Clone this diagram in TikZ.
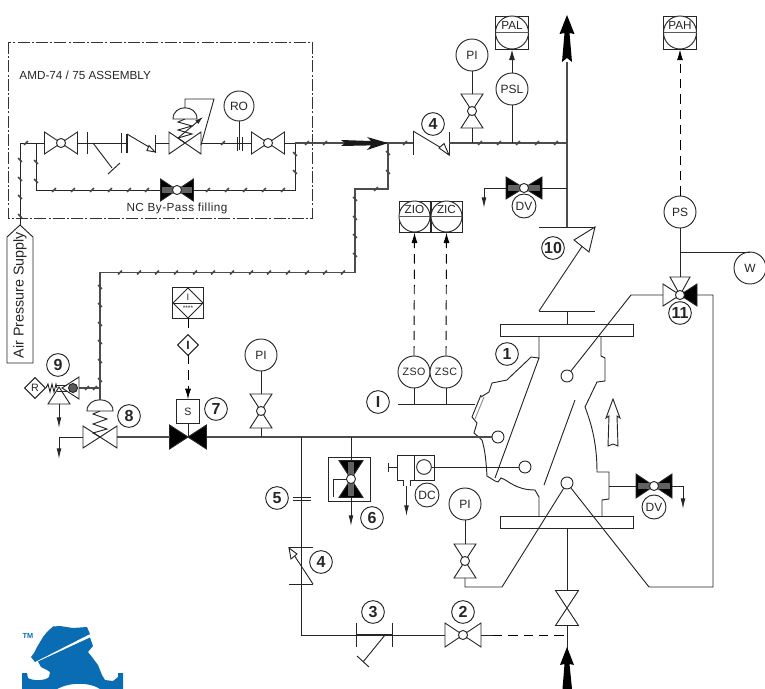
\documentclass[tikz,border=0pt]{standalone}
\usepackage{fontspec}
\setmainfont{Liberation Sans}
\newfontfamily\isof[LetterSpace=4]{Liberation Sans}
\usetikzlibrary{arrows.meta}
\definecolor{logoblue}{HTML}{0A6DB4}
\tikzset{
  pipe/.style={line width=0.8pt,draw=black!70},
  inst/.style={circle,draw,fill=white,minimum size=24pt,inner sep=0pt,font=\fontsize{9pt}{10pt}\selectfont},
  num/.style={circle,draw,fill=white,minimum size=17pt,inner sep=0pt,font=\bfseries\fontsize{12pt}{12pt}\selectfont},
  dvc/.style={circle,draw,fill=white,minimum size=18pt,inner sep=0pt,font=\fontsize{9pt}{10pt}\selectfont},
  vc/.style={circle,draw,fill=white,minimum size=6.8pt,inner sep=0pt},
  vn/.style={inner sep=0pt,minimum size=0pt},
  port/.style={circle,draw,fill=white,minimum size=9pt,inner sep=0pt},
  tickmark/.style={line width=1.15pt,draw=black!72},
  dashline/.style={dash pattern=on 7pt off 4.5pt,draw=black},
  outlet/.style={-{Latex[length=8pt,width=3.6pt]}},
  sq/.style={rectangle,draw,inner sep=0pt},
  lbl/.style={inner sep=0pt,font=\fontsize{8.8pt}{9pt}\selectfont}
}
% name, x, y, rotation, half length, half width, fill, centre style
\newcommand\vlv[8]{%
  \begin{scope}[shift={(#2,#3)},rotate=#4]
    \draw[fill=#7] (-#5,-#6)--(0,0)--(-#5,#6)--cycle;
    \draw[fill=#7] (#5,-#6)--(0,0)--(#5,#6)--cycle;
    \coordinate (#1-a) at (-#5,0);
    \coordinate (#1-b) at (#5,0);
  \end{scope}
  \node[#8] (#1) at (#2,#3) {};}
% stripe on the shaded black valves: x, y, rotation, half length
\newcommand\stripe[4]{%
  \begin{scope}[shift={(#1,#2)},rotate=#3]
    \fill[black!62] (-#4,-2.6) rectangle (#4,2.6);
  \end{scope}}
% name, centre x, centre y, half size, text
\newcommand\alarm[5]{%
  \node[sq,fill=white,minimum size=#4*1.5pt] (#1) at (#2,#3) {};
  \draw[fill=white] (#2,#3) circle[radius=#4];
  \draw[line width=1pt,draw=black!65] (#2-#4,#3) -- (#2+#4,#3);
  \node[lbl] at (#2,#3-7.5) {#5};}
\begin{document}
\begin{tikzpicture}[x=0.75pt,y=-0.75pt,line width=0.7pt,color=black!85]
\useasboundingbox (0,0) rectangle (765,689);

% ---------- assembly box
\draw[dash pattern=on 9pt off 1.6pt on 1.6pt off 1.6pt,draw=black!80] (8,42) rectangle (312,218);
\node[anchor=west,inner sep=0pt,font=\fontsize{8.8pt}{10pt}\selectfont] (asm) at (19,75) {AMD-74 / 75 ASSEMBLY};
\node[inner sep=0pt,font=\isof\fontsize{8.8pt}{9pt}\selectfont] (nc) at (177,208.5) {NC By-Pass filling};

% ---------- supply tag
\node[inner sep=0pt] (sup) at (20,226) {};
\draw[fill=white] (20,225)--(33,237)--(33,363)--(7,363)--(7,237)--cycle;
\node[rotate=90,inner sep=0pt,font=\fontsize{10.7pt}{12pt}\selectfont] at (20,295) {Air Pressure Supply};

% ---------- valves
\vlv{v1}{61}{143}{0}{16.5}{11}{white}{vc}
\vlv{vreg}{185}{143}{0}{16}{11}{white}{vn}
\vlv{v2r}{268}{143}{0}{16.5}{11}{white}{vc}
\vlv{vbp}{177}{190}{0}{16.5}{11}{black}{vn}
\stripe{177}{190}{0}{15}
\node[vc] at (177,190) {};
\vlv{vpi}{472}{111}{90}{17}{11}{white}{vc}
\vlv{vdvt}{524}{188}{0}{18}{11}{black}{vn}
\stripe{524}{188}{0}{16}
\node[vc] at (524,188) {};
\vlv{vpib}{261}{411}{90}{17}{11}{white}{vc}
\vlv{v8}{100}{437}{0}{17}{11}{white}{vn}
\vlv{v7}{188}{437}{0}{18.5}{12}{black}{vn}
\vlv{vpic}{465}{561}{90}{17}{11}{white}{vc}
\vlv{v2}{463}{635}{0}{18}{12}{white}{vc}
\vlv{vin}{567}{608}{90}{17.5}{11.5}{white}{vn}
\vlv{vdvr}{654}{486}{0}{18}{12}{black}{vn}
\stripe{654}{486}{0}{16}
\node[vc] at (654,486) {};

% ---------- instruments
\node[num] (n4a) at (433,124) {4};
\node[inst] (pi1) at (472,55) {PI};
\node[inst] (psl) at (512,89) {PSL};
\alarm{pal}{512}{32.5}{16.5}{PAL}
\alarm{pah}{680}{32.5}{16.5}{PAH}
\alarm{zio}{414.5}{216.5}{15.5}{ZIO}
\alarm{zic}{446.5}{216.5}{15.5}{ZIC}
\node[dvc] (dv1) at (524,206) {DV};
\node[inst,font=\isof\fontsize{8pt}{10pt}\selectfont] (zso) at (414,372) {ZSO};
\node[inst,font=\isof\fontsize{8pt}{10pt}\selectfont] (zsc) at (446,372) {ZSC};
\node[num] (nI) at (378,402) {I};
\node[num] (n1) at (507,354) {1};
\node[inst] (ps) at (680,212) {PS};
\node[inst] (w) at (750,268) {W};
\node[num] (n10) at (553,248) {10};
\node[num] (n11) at (680,313) {11};
\node[inst] (pi2) at (261,355) {PI};
\node[inst] (pi3) at (465,504) {PI};
\node[inst,minimum size=22.5pt] (ro) at (239,106) {RO};
\node[num] (n9) at (58,365) {9};
\node[num] (n8) at (129,416) {8};
\node[num] (n7) at (216,409) {7};
\node[num] (n5) at (277,498) {5};
\node[num] (n6) at (372,518) {6};
\node[num] (n4b) at (321,562) {4};
\node[num] (n3) at (373,612) {3};
\node[num] (n2) at (463,612) {2};
\node[dvc] (dcl) at (427,495) {DC};
\node[dvc] (dv2) at (654,507) {DV};
\node[sq,fill=white,minimum size=17.5pt,font=\fontsize{8pt}{9pt}\selectfont] (s7) at (188,411.5) {S};
\node[sq,minimum size=11pt,rotate=45,fill=white] (dI) at (188,345) {};
\node[inner sep=0pt,font=\bfseries\fontsize{9pt}{9pt}\selectfont] at (188,345) {I};

% ---------- upper left line
\coordinate (j1) at (20,143);
\coordinate (j2) at (36,143);
\coordinate (j3) at (295,143);
\coordinate (j4) at (388,143);
\coordinate (j5) at (567,143);
\draw (sup.north) -- (j1) -- (v1-a);
\draw (v1-b) -- (87,143);
\draw (87,132) -- (87,154);
\draw (87,143) -- (121,143);
\draw (93,143) -- (112,168);
\draw (108,174) -- (120,163);
\draw (121,133) -- (121,153);
\draw[line width=1.2pt] (127,134) -- (127,153);
\draw (121,143) -- (127,143);
\draw (127,134) -- (149,147);
\draw[fill=white] (155,152) -- (147,150.5) -- (149,145.5) -- cycle;
\draw (155,135) -- (155,153);
\draw (155,143) -- (vreg-a);
\draw (vreg-b) -- (v2r-a);
\draw (j2) -- (36,190) -- (vbp-a);
\draw (vbp-b) -- (295,190) -- (j3);
\draw (v2r-b) -- (j3);
\draw[pipe] (j3) -- (j4);
% regulator actuator
\draw (185,119) -- (178,122) -- (192,126) -- (178,130) -- (192,134) -- (178,138) -- (185,143);
\draw[fill=white] (173,119) .. controls (173,104) and (197,104) .. (197,119) -- cycle;
\draw (185,108) -- (185,99) -- (214,99) -- (201,145);
\draw[-{Latex[length=6pt,width=3.5pt]}] (178,138) -- (203,117);
% orifice RO
\draw (ro.south) -- (239,150);
\draw (237,137) -- (237,151);
\draw (242,137) -- (242,151);

% ---------- air line to valves
\draw[pipe] (j4) -- (388,189) -- (355,189) -- (355,272.5) -- (100,272.5) -- (100,400);
\fill[black!90] (341,140) -- (345,143) -- (341,146) -- (371,145.4) -- (367,150) -- (388,143) -- (367,137) -- (371,141) -- cycle;
\draw[pipe] (j4) -- (413,143);
\draw (413,131) -- (413,155);
\draw (413,131) -- (443,149);
\draw[fill=white] (449,155) -- (439,148) -- (444,143.5) -- cycle;
\draw (449,132) -- (449,155);
\draw[pipe] (449,143) -- (j5);

% ---------- outlet column
\draw[pipe] (567,62) -- (567,227);
\fill[black] (567,15) -- (574.5,34) -- (569.5,33) -- (572,62) -- (567,58) -- (562,62) -- (564.5,33) -- (559.5,34) -- cycle;
\draw (pi1.south) -- (vpi-b);
\draw (vpi-a) -- (472,143);
\draw (psl.south) -- (512,143);
\draw[-{Latex[length=8pt,width=4.5pt]}] (psl.north) -- (pal.south);
\draw (567,188) -- (vdvt-b);
\draw[outlet] (vdvt-a) -- (484,188) -- (484,208);

% ---------- check valve 10
\draw (539,227) -- (595,227);
\draw (539,311) -- (595,311);
\draw (595,227) -- (539,311);
\draw[fill=white] (595,227) -- (574,240) -- (589,252) -- cycle;
\draw (567,311) -- (567,324);

% ---------- valve body
\draw[fill=white] (500,324) rectangle (633,336);
\draw[fill=white] (500,516) rectangle (633,528);
\draw (539,336) -- (539,358) -- (531,357) .. controls (522,366) and (515,372) .. (507,380)
  -- (492,383) -- (489,392) -- (481,397);
\draw (481,395) -- (472,417) -- (477,423) -- (474,433) -- (482,440) .. controls (485,450) and (486,460) .. (487,476)
  -- (495,481) -- (498,482) -- (501,478) .. controls (508,480) and (515,490) .. (535,490) -- (539,497) -- (539,516);
\draw[draw=black!45] (484,397) -- (475,419);
\draw (539,358) -- (495,478);
\draw (601,336) -- (601,356) -- (605,358) -- (605,381) -- (597,382) -- (585,407)
  .. controls (592,425) and (597,445) .. (597,472) -- (609,472) -- (609,499) -- (602,500) -- (602,516);
\draw (575,400) -- (544,485);
\draw[fill=white] (613,399) -- (620,418) -- (617,416) -- (618,446) -- (613,444) -- (608,446) -- (609,416) -- (606,418) -- cycle;
\node[port] (c1) at (567,376) {};
\node[port] (c2) at (498,437) {};
\node[port] (c3) at (525,467) {};
\node[port] (c4) at (567,483) {};

% ---------- valve 11 and PS
\draw[fill=white] (680,295) -- (670,277) -- (690,277) -- cycle;
\draw[fill=white] (680,295) -- (663,284) -- (663,306) -- cycle;
\draw[fill=black] (680,295) -- (697,284) -- (697,306) -- cycle;
\node[vc] (v11) at (680,295) {};
\coordinate (v11t) at (680,277);
\coordinate (v11l) at (663,295);
\coordinate (v11r) at (697,295);
\draw (ps.south) -- (v11t);
\draw (680,252) -- (750,252);
\draw[dashline,-{Latex[length=8pt,width=4.5pt]}] (ps.north) -- (pah.south);
\draw (c1) -- (631,295) -- (v11l);
\draw (v11r) -- (713,295) -- (713,587) -- (649,587) -- (c4);
\draw (c4) -- (502,587) -- (465,587) -- (vpic-a);
\draw (pi3.south) -- (vpic-b);

% ---------- ZSO, ZSC
\draw[dashline,-{Latex[length=8pt,width=4.5pt]}] (zso.north) -- (zio.south);
\draw[dashline,-{Latex[length=8pt,width=4.5pt]}] (zsc.north) -- (zic.south);
\draw (398,404) -- (475,404);
\draw (zso.south) -- (414,404);
\draw (zsc.south) -- (446,404);

% ---------- main control line
\draw[pipe] (v8-b) -- (v7-a);
\draw[pipe] (v7-b) -- (c2);
\draw[outlet] (v8-a) -- (59,437) -- (59,459);
\draw (pi2.south) -- (vpib-b);
\draw (vpib-a) -- (261,437);
\draw (s7.south) -- (188,437);
\draw[dashline,-{Latex[length=8pt,width=4.5pt]}] (188,355) -- (s7.north);
% valve 8 actuator
\draw (100,411) -- (93,414) -- (107,419) -- (93,424) -- (107,429) -- (93,433) -- (100,437);
\draw[fill=white] (87,411) .. controls (87,396) and (113,396) .. (113,411) -- cycle;
% valve 9
\draw (46,388) -- (48,384) -- (50,392) -- (52,384) -- (54,392) -- (56,384) -- (57,388);
\node[sq,minimum size=11pt,rotate=45,fill=white] (r) at (35,388) {};
\node[inner sep=0pt,font=\fontsize{8pt}{8pt}\selectfont] at (35,388) {R};
\draw[fill=white] (62,388) -- (79,377) -- (79,399) -- cycle;
\draw[fill=white] (59,387) -- (48,404) -- (70,404) -- cycle;
\draw (57,385) -- (67,385);
\draw (57,391) -- (67,391);
\draw[fill=black!65] (73,388) circle[radius=4.5];
\draw[pipe] (79,388) -- (100,388);
\draw[outlet] (59,404) -- (59,428);

% ---------- instrument box above S
\node[sq,minimum size=23pt,fill=white] (ib) at (188,303) {};
\draw (173,303) -- (188,288) -- (203,303) -- (188,318) -- cycle;
\draw (173,303) -- (203,303);
\node[inner sep=0pt,font=\fontsize{7pt}{7pt}\selectfont] at (188,297) {I};
\node[inner sep=0pt,font=\fontsize{5pt}{5pt}\selectfont] at (188,308) {****};
\draw[dashline] (ib.south) -- (188,334);

% ---------- orifice 5, check valve 4, strainer 3
\draw (301,437) -- (301,584);
\draw (293,497) -- (311,497);
\draw (293,500.5) -- (311,500.5);
\draw (289,547) -- (313,547);
\draw (289,584) -- (313,584);
\draw (313,584) -- (294,555);
\draw[fill=white] (289,548) -- (291,559) -- (297,554) -- cycle;
\draw (301,584) -- (301,635) -- (356,635);
\draw[line width=1.1pt] (356,635) -- (392,635);
\draw (356,623) -- (356,647);
\draw (392,623) -- (392,647);
\draw (385,635) -- (363,662);
\draw (357,656) -- (369,667);
\draw (392,635) -- (v2-a);
\draw (v2-b) -- (493,635);
\draw[dashline] (493,635) -- (567,635);
\draw (vin-b) -- (567,528);
\draw (vin-a) -- (567,660);
\fill[black] (567,647) -- (574,665) -- (569.5,664) -- (572,689) -- (562.5,689) -- (564.5,664) -- (560,665) -- cycle;

% ---------- valve 6
\node[sq,minimum width=31.5pt,minimum height=33.5pt,fill=white] (b6) at (349.5,479.5) {};
\vlv{v6}{351}{479}{90}{18.5}{12}{black}{vn}
\begin{scope}[shift={(351,479)},rotate=90]
  \fill[black!62] (-17,-2.6) rectangle (17,2.6);
\end{scope}
\node[vc] at (351,479) {};
\draw (v6-b) -- (351,437);
\draw[outlet] (v6-a) -- (351,526);
\draw (346.5,479) -- (333,479) -- (333,497);

% ---------- DC
\draw (414,455) -- (434,455) -- (434,480) -- (414,480);
\draw (414,455) -- (397,455) -- (397,480) -- (403,480) -- (403,486);
\draw (410,486) -- (410,480) -- (414,480);
\draw (414,455) -- (414,480);
\draw (397,467.5) -- (389,467.5);
\draw (388.5,463) -- (388.5,472);
\node[port,minimum size=11pt] (dc) at (424,467) {};
\draw (dc) -- (c3);
\draw[outlet] (406.5,486) -- (406.5,516);

% ---------- right DV
\draw (609,486) -- (vdvr-a);
\draw[outlet] (vdvr-b) -- (683,486) -- (683,509);

% ---------- air line tick marks
\foreach \p in {(26,143),(223,143),(307,143),(325,143),(405,143),(480,143),(499,143),(518,143),(537,143),(556,143),
  (54,190),(73,190),(92,190),(110,190),(129,190),(147,190),(208,190),(227,190),(245,190),(264,190),(283,190),
  (376,189),(343,272.5),(120,272.5),(139,272.5),(157,272.5),(176,272.5),(195,272.5),(213,272.5),(232,272.5),(251,272.5),(269,272.5),(288,272.5),(307,272.5),(325,272.5),
  (87,388),(95,388)}
  \draw[tickmark] \p ++(-1.9,1.9) -- ++(3.8,-3.8);
\foreach \p in {(20,160),(20,179),(20,197),(20,216),(36,162),(36,181),(295,154),(295,172),
  (388,153),(388,172),(355,199),(355,218),(355,236),(355,255),
  (100,287),(100,305),(100,324),(100,342),(100,361),(100,380)}
  \draw[tickmark] \p ++(-1.9,-1.9) -- ++(3.8,3.8);

% ---------- logo
\fill[logoblue] (31,657) -- (34,653) -- (37,647) -- (43,637) -- (47,632) -- (53,626.5) -- (60,626) -- (73,628) -- (87,627) -- (90,634) -- (35,662) -- cycle;
\fill[logoblue] (38,661.5) -- (90,637.5) -- (93,646) -- (88,652) -- (92,657) -- (98,665) -- (102,675) -- (105,680) -- (113,681) -- (118,677) -- (118,673) -- (123,673) -- (123,689)
  -- (100,689) .. controls (90,682) and (70,682) .. (57,689) -- (22,689) -- (22,673) -- (27,673) -- (28,678) .. controls (33,681) and (45,681) .. (49,677) -- (50,672) -- (47,670) -- (41,667) -- cycle;
\node[inner sep=0pt,text=logoblue,font=\bfseries\fontsize{5.5pt}{6pt}\selectfont] (tm) at (28,636) {TM};
\end{tikzpicture}
\end{document}
